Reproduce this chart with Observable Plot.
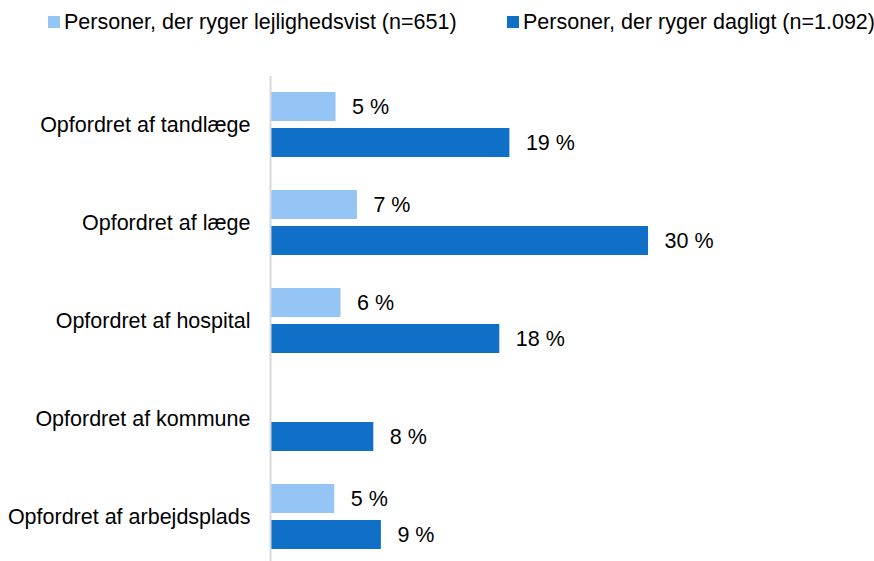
<!DOCTYPE html>
<html><head><meta charset="utf-8">
<script src="https://cdn.jsdelivr.net/npm/d3@7"></script>
<script src="https://cdn.jsdelivr.net/npm/@observablehq/plot@0.6"></script>
<style>
body{margin:0;background:#fff;font-family:"Liberation Sans",Arial,sans-serif;}
#legend{height:50px;position:relative;font-size:21.5px;color:#000;line-height:24px;}
.item{position:absolute;top:10px;display:flex;align-items:center;white-space:nowrap;}
.sw{width:12px;height:12px;margin-right:4px;}
</style></head><body>
<div id="legend"></div><div id="chart"></div>
<script>
const categories = ["Opfordret af tandlæge", "Opfordret af læge", "Opfordret af hospital", "Opfordret af kommune", "Opfordret af arbejdsplads"];
const series = ["Personer, der ryger lejlighedsvist (n=651)", "Personer, der ryger dagligt (n=1.092)"];
// bar lengths (labels show rounded values)
const occasional = [5.2, 6.9, 5.6, null, 5.1];
const daily = [19.0, 30.0, 18.2, 8.2, 8.8];
const colors = ["#95c5f5", "#106fc6"];

const data = [];
categories.forEach((c, i) => {
  if (occasional[i] != null) data.push({category: c, series: series[0], value: occasional[i]});
  if (daily[i] != null) data.push({category: c, series: series[1], value: daily[i]});
});

const legend = document.getElementById("legend");
const legendX = [48, 507];
series.forEach((s, i) => {
  const it = document.createElement("div");
  it.className = "item";
  it.style.left = legendX[i] + "px";
  const sw = document.createElement("span");
  sw.className = "sw";
  sw.style.background = colors[i];
  const t = document.createElement("span");
  t.textContent = s;
  it.appendChild(sw); it.appendChild(t);
  legend.appendChild(it);
});

const chart = Plot.plot({
  width: 874, height: 520,
  marginTop: 25, marginBottom: 3, marginLeft: 270, marginRight: 100,
  x: {domain: [0, 40], axis: null},
  y: {domain: series, paddingInner: 0.19, paddingOuter: 0.42, axis: null},
  fy: {domain: categories, padding: 0, label: null},
  color: {domain: series, range: colors},
  style: {fontFamily: "'Liberation Sans', Arial, sans-serif", fontSize: "21.5px", color: "#000", background: "#fff"},
  marks: [
    Plot.axisFy({anchor: "left", tickSize: 0, tickPadding: 20, fontSize: 21.5, label: null}),
    Plot.barX(data, {x: "value", y: "series", fy: "category", fill: "series"}),
    Plot.text(data, {x: "value", y: "series", fy: "category", text: d => Math.round(d.value) + " %", textAnchor: "start", dx: 16, fontSize: 21.5, fill: "#000"}),
    Plot.ruleX([0], {stroke: "#d9d9d9", strokeWidth: 2})
  ]
});
document.getElementById("chart").appendChild(chart);
</script>
</body></html>
